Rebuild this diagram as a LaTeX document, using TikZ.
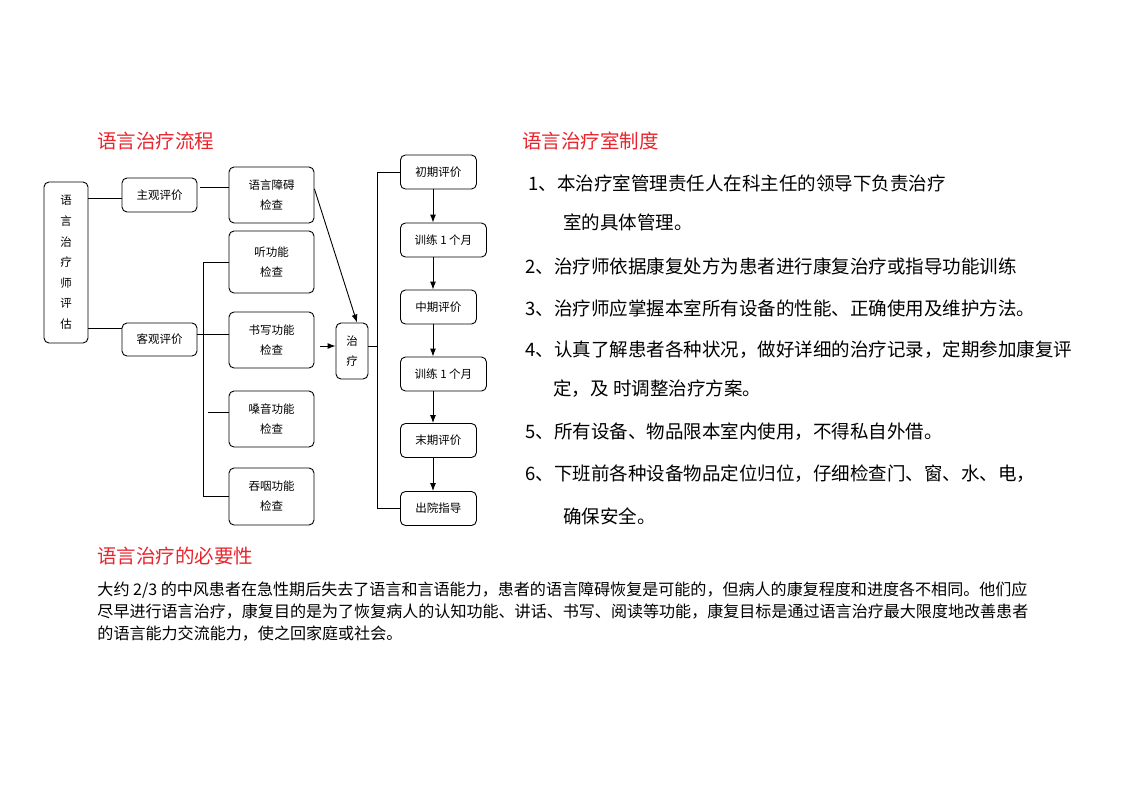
\documentclass[tikz,border=0pt]{standalone}
\usepackage{fontspec}
\setmainfont{Noto Sans CJK SC}
\usetikzlibrary{arrows.meta}
\definecolor{titlered}{RGB}{232,36,44}

\tikzset{
  box/.style={draw, rounded corners=5pt, inner sep=0pt, align=center, font=\fontsize{11.5}{20}\selectfont},
  title/.style={anchor=west, inner sep=0pt, text=titlered, font=\fontsize{19.5}{20}\selectfont},
  rule/.style={anchor=west, inner sep=0pt, font=\fontsize{18.5}{20}\selectfont},
  para/.style={anchor=west, inner sep=0pt, font=\fontsize{16.05}{20}\selectfont},
  flow/.style={-{Latex[length=8pt,width=6pt]}}
}

\begin{document}
\begin{tikzpicture}[x=1pt, y=-1pt, line width=0.9pt]
  \useasboundingbox (0,0) rectangle (1122,793);

  % titles
  \node[title] (t1) at (97,141) {语言治疗流程};
  \node[title] (t2) at (522,141) {语言治疗室制度};
  \node[title] (t3) at (97,556) {语言治疗的必要性};

  % assessment boxes
  \node[box, minimum width=44, minimum height=161, font=\fontsize{11.5}{20.6}\selectfont] (ev) at (66,262.5) {语\\言\\治\\疗\\师\\评\\估};
  \node[box, minimum width=75, minimum height=34] (zg) at (159.5,195) {主观评价};
  \node[box, minimum width=75, minimum height=33] (kg) at (159.5,339.5) {客观评价};
  \node[box, minimum width=85, minimum height=56] (yz) at (271.5,195) {语言障碍\\检查};
  \node[box, minimum width=85, minimum height=62] (tg) at (271.5,262) {听功能\\检查};
  \node[box, minimum width=85, minimum height=56] (sx) at (271.5,340) {书写功能\\检查};
  \node[box, minimum width=85, minimum height=56] (sy) at (271.5,419) {嗓音功能\\检查};
  \node[box, minimum width=85, minimum height=57] (ty) at (271.5,496.5) {吞咽功能\\检查};
  \node[box, minimum width=32, minimum height=56] (zl) at (352,351) {治\\疗};

  % treatment course
  \node[box, anchor=west, minimum width=76, minimum height=34] (cq) at (400,172) {初期评价};
  \node[box, anchor=west, minimum width=86, minimum height=34] (xl1) at (400,240) {训练 1 个月};
  \node[box, anchor=west, minimum width=76, minimum height=34] (zq) at (400,307) {中期评价};
  \node[box, anchor=west, minimum width=86, minimum height=34] (xl2) at (400,374) {训练 1 个月};
  \node[box, anchor=west, minimum width=76, minimum height=34] (mq) at (400,440.5) {末期评价};
  \node[box, anchor=west, minimum width=76, minimum height=34] (cy) at (400,508.5) {出院指导};

  % connectors
  \coordinate (zgin) at ([yshift=-3pt]zg.west);
  \coordinate (kgin) at ([yshift=11.5pt]kg.west);
  \coordinate (yzin) at ([yshift=8pt]yz.west);
  \coordinate (sxin) at ([yshift=6pt]sx.west);
  \draw (ev.east |- zgin) -- (zgin);
  \draw (ev.east |- kgin) -- (kgin);
  \draw ([xshift=3pt]zg.east |- yzin) -- (yzin);
  \draw (kg.east |- sxin) -- (sxin);
  \draw (tg.west) -- ++(-25,0) |- (ty.west);
  \draw ([yshift=7pt]sy.west) -- ++(-21,0);

  \coordinate (src) at ([xshift=-16pt,yshift=5pt]zl.west);
  \draw[flow] (src) -- ([yshift=5pt]zl.west);
  \draw[flow] ([yshift=6pt]yz.east) -- ([xshift=5pt]zl.north);
  \draw ([yshift=5pt]zl.east) -- ++(10,0);
  \draw (cq.west) -- ++(-23,0) |- (cy.west);

  \coordinate (ax) at (433,0);
  \foreach \a/\b in {cq/xl1, xl1/zq, zq/xl2, xl2/mq, mq/cy}
    \draw[flow] (\a.south -| ax) -- (\b.north -| ax);

  % rules
  \node[rule] (r1) at (528,183) {1、本治疗室管理责任人在科主任的领导下负责治疗};
  \node[rule] (r1b) at (563,222) {室的具体管理。};
  \node[rule] (r2) at (525,266) {2、治疗师依据康复处方为患者进行康复治疗或指导功能训练};
  \node[rule] (r3) at (525,308) {3、治疗师应掌握本室所有设备的性能、正确使用及维护方法。};
  \node[rule] (r4) at (525,350) {4、认真了解患者各种状况，做好详细的治疗记录，定期参加康复评};
  \node[rule] (r4b) at (553,389) {定，及 时调整治疗方案。};
  \node[rule] (r5) at (525,432) {5、所有设备、物品限本室内使用，不得私自外借。};
  \node[rule] (r6) at (525,474) {6、下班前各种设备物品定位归位，仔细检查门、窗、水、电，};
  \node[rule] (r6b) at (563,516) {确保安全。};

  % paragraph
  \node[para] (p1) at (97,590) {大约 2/3 的中风患者在急性期后失去了语言和言语能力，患者的语言障碍恢复是可能的，但病人的康复程度和进度各不相同。他们应};
  \node[para] (p2) at (97,612) {尽早进行语言治疗，康复目的是为了恢复病人的认知功能、讲话、书写、阅读等功能，康复目标是通过语言治疗最大限度地改善患者};
  \node[para] (p3) at (97,634) {的语言能力交流能力，使之回家庭或社会。};
\end{tikzpicture}
\end{document}
